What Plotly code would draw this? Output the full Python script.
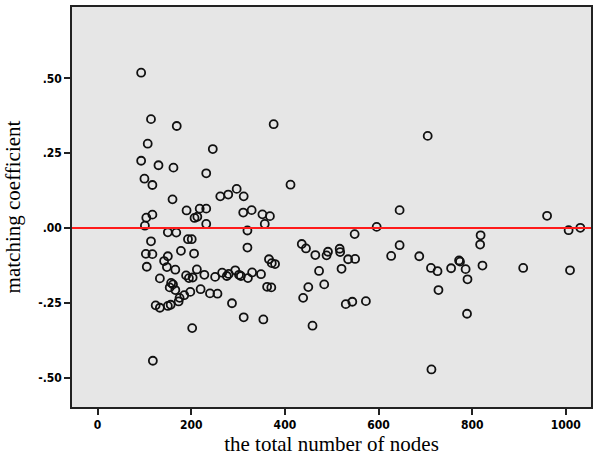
import plotly.graph_objects as go

# total number of nodes per network
nodes = [
    93, 114, 169, 107, 246, 93, 130, 162, 232, 100,
    117, 160, 262, 279, 297, 312, 190, 218, 232, 311,
    329, 104, 117, 207, 213, 101, 232, 320, 150, 168,
    114, 193, 201, 320, 103, 117, 150, 178, 206, 142,
    105, 148, 166, 212, 189, 195, 203, 228, 251, 266,
    276, 280, 294, 302, 306, 321, 330, 349, 133, 157,
    161, 154, 166, 175, 185, 198, 173, 220, 240, 256,
    124, 133, 150, 156, 287, 312, 202, 118, 352, 368,
    357, 366, 372, 379, 362, 371, 354, 376, 412, 436,
    445, 465, 489, 492, 517, 518, 535, 550, 549, 596,
    473, 521, 450, 484, 439, 530, 544, 573, 459, 705,
    645, 645, 627, 687, 712, 726, 755, 728, 713, 772,
    786, 790, 789, 818, 817, 822, 909, 960, 1006, 1031,
    1009, 774,
]

# matching coefficient per network
coef = [
    0.519, 0.364, 0.341, 0.282, 0.264, 0.225, 0.210, 0.202, 0.183, 0.165,
    0.144, 0.096, 0.106, 0.112, 0.131, 0.106, 0.059, 0.065, 0.065, 0.052,
    0.060, 0.035, 0.045, 0.034, 0.038, 0.008, 0.014, -0.008, -0.014, -0.015,
    -0.044, -0.037, -0.037, -0.065, -0.086, -0.087, -0.094, -0.076, -0.085, -0.110,
    -0.129, -0.130, -0.139, -0.138, -0.158, -0.167, -0.165, -0.156, -0.163, -0.149,
    -0.160, -0.153, -0.141, -0.156, -0.160, -0.167, -0.148, -0.154, -0.168, -0.183,
    -0.188, -0.198, -0.207, -0.233, -0.224, -0.213, -0.245, -0.204, -0.218, -0.219,
    -0.258, -0.266, -0.260, -0.256, -0.251, -0.298, -0.334, -0.443, 0.046, 0.040,
    0.014, -0.104, -0.117, -0.120, -0.196, -0.198, -0.305, 0.347, 0.145, -0.053,
    -0.068, -0.090, -0.091, -0.079, -0.069, -0.080, -0.104, -0.103, -0.020, 0.004,
    -0.143, -0.136, -0.197, -0.188, -0.233, -0.254, -0.246, -0.244, -0.326, 0.308,
    0.060, -0.057, -0.093, -0.094, -0.133, -0.144, -0.134, -0.207, -0.472, -0.108,
    -0.137, -0.171, -0.286, -0.024, -0.055, -0.125, -0.133, 0.041, -0.007, 0.001,
    -0.141, -0.112,
]

x_ticks = [0, 200, 400, 600, 800, 1000]
x_tick_text = ["0", "200", "400", "600", "800", "1000"]
y_ticks = [0.50, 0.25, 0.00, -0.25, -0.50]
y_tick_text = [".50", ".25", ".00", "-.25", "-.50"]

tick_font = dict(family="DejaVu Sans Condensed, Liberation Sans, sans-serif",
                 size=12, color="#000", weight="bold")
title_font = dict(family="Liberation Serif, Times New Roman, serif", size=21, color="#000")

fig = go.Figure()
fig.add_trace(go.Scatter(
    x=nodes, y=coef, mode="markers",
    marker=dict(symbol="circle-open", size=8, color="#111", line=dict(width=1.8, color="#111")),
    showlegend=False, hoverinfo="x+y",
))

# reference line at zero
fig.add_shape(type="line", xref="paper", yref="y", x0=0, x1=1, y0=0, y1=0,
              line=dict(color="#ff1a1a", width=2))

axis_common = dict(
    showline=True, linecolor="#222", linewidth=1.6, mirror=True,
    ticks="outside", ticklen=6, tickwidth=1.5, tickcolor="#222",
    showgrid=False, zeroline=False, tickfont=tick_font,
)

fig.update_layout(
    width=594, height=456,
    margin=dict(l=72, r=1, t=7, b=49),
    paper_bgcolor="white", plot_bgcolor="#e6e6e6",
    xaxis=dict(range=[-54.7, 1053.8], tickvals=x_ticks, ticktext=x_tick_text,
               title=dict(text="the total number of nodes", font=title_font, standoff=0),
               **axis_common),
    yaxis=dict(range=[-0.5975, 0.7385], tickvals=y_ticks, ticktext=y_tick_text,
               title=dict(text="matching coefficient", font=title_font, standoff=12),
               **axis_common),
)

fig.write_html("out.html")
